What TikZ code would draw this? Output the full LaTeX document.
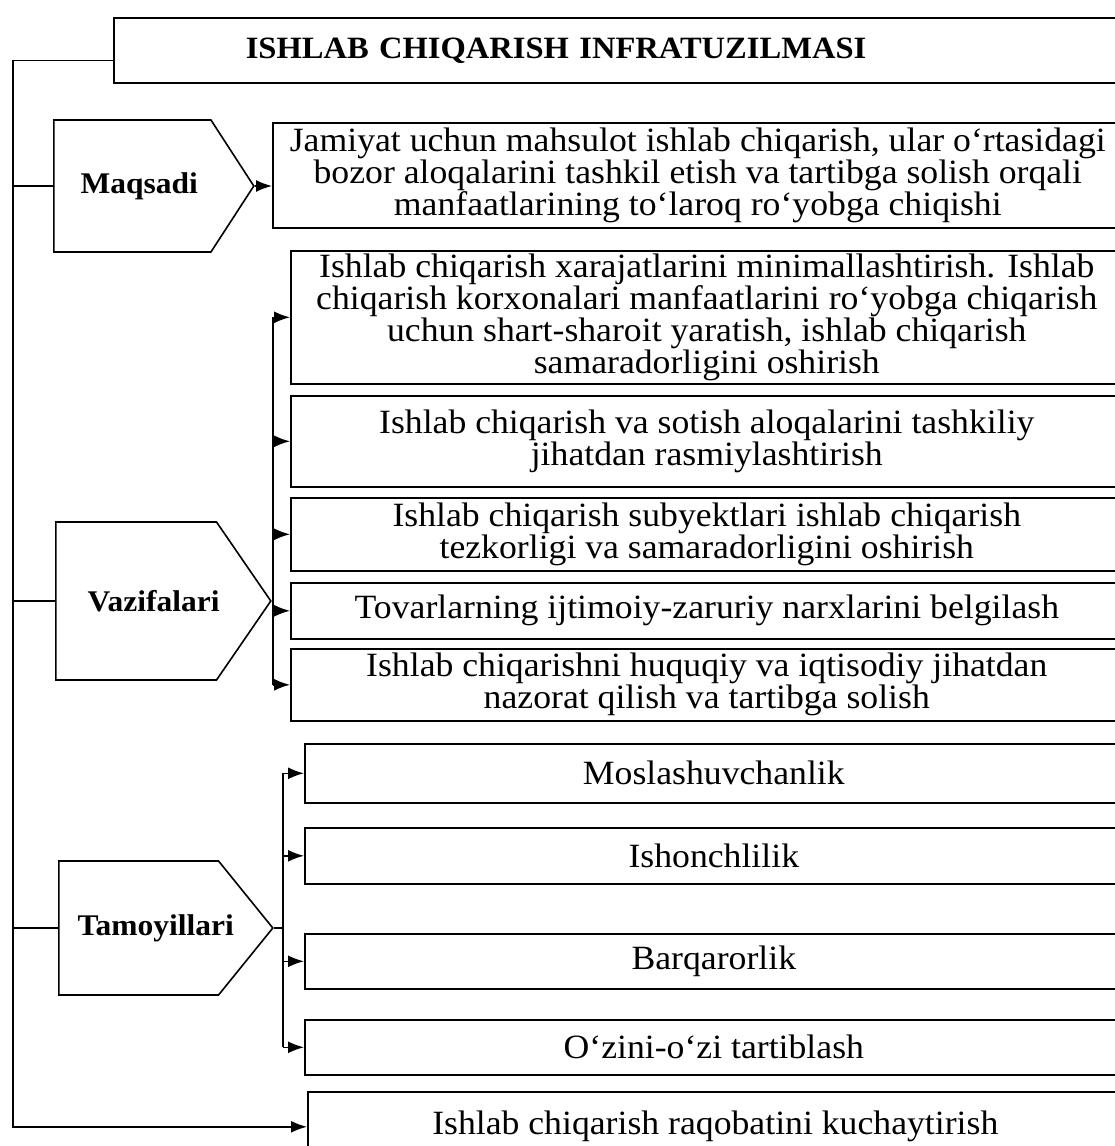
\documentclass[tikz,border=0pt]{standalone}
\usepackage{fontspec}
\setmainfont[FakeStretch=1.05]{Liberation Serif}
\usetikzlibrary{shapes.symbols,arrows.meta}

\tikzset{
  box/.style={draw, line width=1.6pt, align=center, inner xsep=0pt, inner ysep=0pt,
    anchor=north west, font=\fontsize{34}{30.5}\selectfont},
  head/.style={draw, line width=1.6pt, signal, signal to=east, anchor=west,
    inner sep=0pt, font=\fontsize{30}{30}\selectfont\bfseries},
  arr/.style={line width=1.6pt, -{Latex[length=16pt,width=12pt]}},
  link/.style={line width=1.6pt}
}

\begin{document}
\begin{tikzpicture}[x=1pt,y=-1pt]
\useasboundingbox (0,0) rectangle (1115,1146);

% title
\node[box, minimum width=1009pt, minimum height=65pt, align=left, text width=745pt,
  inner xsep=132pt, font=\fontsize{31}{32}\selectfont\bfseries] (title) at (113,17)
  {ISHLAB CHIQARISH INFRATUZILMASI};

% left blocks
\node[head, minimum width=200pt, minimum height=132pt, signal pointer angle=114] (maq) at (53,186) {\makebox[0pt]{\hspace*{14pt}Maqsadi}};
\node[head, minimum width=215pt, minimum height=158pt, signal pointer angle=111] (vaz) at (55,601) {\makebox[0pt]{\hspace*{35pt}Vazifalari}};
\node[head, minimum width=214pt, minimum height=134pt, signal pointer angle=102] (tam) at (58,928) {\makebox[0pt]{\hspace*{34pt}Tamoyillari}};

% boxes
\node[box, minimum width=850pt, minimum height=105pt] (mbox) at (272,122)
  {Jamiyat uchun mahsulot ishlab chiqarish, ular o‘rtasidagi\\
   bozor aloqalarini tashkil etish va tartibga solish orqali\\
   manfaatlarining to‘laroq ro‘yobga chiqishi};

\node[box, minimum width=832pt, minimum height=133pt] (v1) at (290,250)
  {Ishlab chiqarish xarajatlarini minimallashtirish. Ishlab\\
   chiqarish korxonalari manfaatlarini ro‘yobga chiqarish\\
   uchun shart-sharoit yaratish, ishlab chiqarish\\
   samaradorligini oshirish};
\node[box, minimum width=832pt, minimum height=91pt] (v2) at (290,395)
  {Ishlab chiqarish va sotish aloqalarini tashkiliy\\ jihatdan rasmiylashtirish};
\node[box, minimum width=832pt, minimum height=73pt] (v3) at (290,497)
  {Ishlab chiqarish subyektlari ishlab chiqarish\\ tezkorligi va samaradorligini oshirish};
\node[box, minimum width=832pt, minimum height=56pt] (v4) at (290,582)
  {Tovarlarning ijtimoiy-zaruriy narxlarini belgilash};
\node[box, minimum width=832pt, minimum height=72pt] (v5) at (290,648)
  {Ishlab chiqarishni huquqiy va iqtisodiy jihatdan\\ nazorat qilish va tartibga solish};

\node[box, minimum width=818pt, minimum height=59pt] (t1) at (304,743) {Moslashuvchanlik};
\node[box, minimum width=818pt, minimum height=56pt] (t2) at (304,827) {Ishonchlilik};
\node[box, minimum width=818pt, minimum height=55pt] (t3) at (304,933) {Barqarorlik};
\node[box, minimum width=818pt, minimum height=55pt] (t4) at (304,1019) {O‘zini-o‘zi tartiblash};

\node[box, minimum width=815pt, minimum height=70pt] (last) at (307,1091)
  {Ishlab chiqarish raqobatini kuchaytirish};

% connectors
\coordinate (spine) at (13,0);
\coordinate (vbus) at (273,0);
\coordinate (tbus) at (283,0);

\draw[arr] ([yshift=-10pt]title.west) -| (spine |- maq.west) |- (last.west);
\draw[link] (spine |- maq.west) -- (maq.west);
\draw[link] (spine |- vaz.west) -- (vaz.west);
\draw[link] (spine |- tam.west) -- (tam.west);

\draw[arr] (maq.east) -- (maq.east -| mbox.west);

\draw[link] (vaz.east) -- (vaz.east -| vbus);
\draw[link] (vbus |- v1.west) -- (vbus |- v5.west);
\foreach \b in {v1,v2,v3,v4,v5}
  \draw[arr] (vbus |- \b.west) -- (\b.west);

\draw[link] (tam.east) -- (tam.east -| tbus);
\draw[link] (tbus |- t1.west) -- (tbus |- t4.west);
\foreach \b in {t1,t2,t3,t4}
  \draw[arr] (tbus |- \b.west) -- (\b.west);
\end{tikzpicture}
\end{document}
